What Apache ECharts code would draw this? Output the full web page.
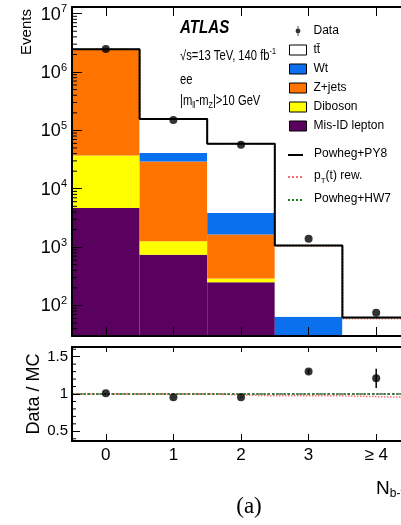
<!DOCTYPE html>
<html>
<head>
<meta charset="utf-8">
<script src="https://cdn.jsdelivr.net/npm/echarts@6/dist/echarts.min.js"></script>
<style>
  html, body { margin: 0; padding: 0; background: #fff; overflow: hidden; }
  /* the frame's right edge and the axis title run past the visible page width */
  #chart { width: 420px; height: 525px; }
</style>
</head>
<body>
<div id="chart"></div>
<script>
// b-tagged jet multiplicity bins
const categories = ['0', '1', '2', '3', '\u2265 4'];

// Stacked predictions (events per bin), listed bottom to top of the stack
const misIdLepton = [4700, 740, 250, 8, 1];
const diboson     = [32300, 520, 39, 3, 0.5];
const zJets       = [2380000, 28040, 1351, 6, 1];
const wt          = [4000, 11700, 2210, 47, 8];
const ttbar       = [40000, 116000, 55150, 1006, 51.5];

// Alternative ttbar modelling, total prediction per bin
const ptRewTotal  = [2461000, 157000, 57600, 1045, 59.5];
const hw7Total    = [2461000, 157000, 58900, 1065, 61.5];

// Observed events
const dataEvents  = [2480000, 150000, 56500, 1390, 75];

// Ratio panel
const ratioData   = [1.01, 0.955, 0.955, 1.30, 1.21];
const ratioErr    = [0.003, 0.004, 0.006, 0.03, 0.13];
const ratioPy8    = [1, 1, 1, 1, 1];
const ratioPtRew  = [1.0, 1.0, 0.975, 0.975, 0.955];
const ratioHw7    = [1.0, 1.0, 1.0, 1.0, 1.0];

// Axis tick values
const logMajorTicks = [1e2, 1e3, 1e4, 1e5, 1e6, 1e7];
const ratioMajorTicks = [0.5, 1, 1.5];

// ---------------------------------------------------------------------------
const SANS = '"Liberation Sans", Arial, sans-serif';
const X_MIN = -0.5, X_MAX = 4.5;
const Y_MIN = 30, Y_MAX = 1.3e7;
const R_MIN = 0.37, R_MAX = 1.63;
const binCenters = categories.map((_, i) => i);
const TTBAR = 'tt\u0304';

const layers = [
  { name: 'Mis-ID lepton', values: misIdLepton, color: '#5a005e' },
  { name: 'Diboson',       values: diboson,     color: '#ffff00' },
  { name: 'Z+jets',        values: zJets,       color: '#ff7300' },
  { name: 'Wt',            values: wt,          color: '#0a70ee' },
  { name: TTBAR,           values: ttbar,       color: '#ffffff' }
];

// cumulative stack edges
const running = categories.map(() => 0);
layers.forEach(l => {
  l.rows = l.values.map((v, i) => {
    const lo = running[i];
    running[i] += v;
    return [i, lo, running[i]];
  });
});
const totalMC = running.slice();

// histogram-style outline: left edge of each bin, then the closing right edge
function stepPoints(vals) {
  const pts = vals.map((v, i) => [i - 0.5, v]);
  pts.push([vals.length - 0.5, vals[vals.length - 1]]);
  return pts;
}

function clampLog(v) { return Math.min(Math.max(v, Y_MIN), Y_MAX); }

function renderBinRect(params, api) {
  const i = api.value(0);
  const lo = clampLog(api.value(1));
  const hi = clampLog(api.value(2));
  if (hi <= lo) return null;
  const p0 = api.coord([i - 0.5, hi]);
  const p1 = api.coord([i + 0.5, lo]);
  return {
    type: 'rect',
    shape: { x: p0[0], y: p0[1], width: p1[0] - p0[0], height: p1[1] - p0[1] },
    style: { fill: api.visual('color') }
  };
}

function minorTickRenderer(len) {
  return function (params, api) {
    const p = api.coord([X_MIN, api.value(0)]);
    return {
      type: 'line',
      shape: { x1: p[0], y1: p[1], x2: p[0] + len, y2: p[1] },
      style: { stroke: '#000', lineWidth: 1 }
    };
  };
}

const logMinorTicks = [];
for (let d = 1; d <= 7; d++) {
  for (let m = 2; m <= 9; m++) {
    const v = m * Math.pow(10, d);
    if (v > Y_MIN && v < Y_MAX) logMinorTicks.push([v]);
  }
}
const ratioMinorTicks = [];
for (let k = 4; k <= 16; k++) {
  if (k % 5 !== 0) ratioMinorTicks.push([k / 10]);
}

const axisLineStyle = { color: '#000', width: 2 };

function xAxisFor(gridIndex, position, tickLen, withLabels) {
  const ax = {
    type: 'value', gridIndex, position, min: X_MIN, max: X_MAX, z: 10,
    axisLine: { show: true, onZero: false, lineStyle: axisLineStyle },
    axisTick: { show: true, inside: true, length: tickLen, customValues: binCenters,
                lineStyle: { color: '#000', width: 1 } },
    axisLabel: { show: false },
    splitLine: { show: false }
  };
  if (withLabels) {
    ax.axisLabel = {
      show: true, customValues: binCenters, margin: 6,
      fontFamily: SANS, fontSize: 17, color: '#000',
      formatter: v => categories[Math.round(v)]
    };
    ax.name = '{n|N}{s|b-tag}';
    ax.nameLocation = 'end';
    ax.nameGap = -34;
    ax.nameMoveOverlap = false;
    ax.nameTextStyle = {
      align: 'left', verticalAlign: 'top', padding: [38, 0, 0, 0],
      rich: {
        n: { fontFamily: SANS, fontSize: 19, color: '#000', verticalAlign: 'top', lineHeight: 22 },
        s: { fontFamily: SANS, fontSize: 12, color: '#000', verticalAlign: 'top', lineHeight: 14, padding: [9, 0, 0, 0] }
      }
    };
  }
  return ax;
}

// condensed text look for the in-plot annotations
function note(text, x, y, size, extra) {
  return Object.assign({
    type: 'text', x, y, scaleX: 0.8,
    style: Object.assign({ text, fontFamily: SANS, fontSize: size, fill: '#000',
                           align: 'left', verticalAlign: 'middle' }, extra && extra.style)
  }, extra && extra.el);
}

const option = {
  animation: false,
  backgroundColor: '#fff',
  grid: [
    { left: 72, top: 7, right: 10, height: 329 },
    { left: 72, top: 347, right: 10, height: 94 }
  ],
  xAxis: [
    xAxisFor(0, 'bottom', 9, false),
    xAxisFor(0, 'top', 9, false),
    xAxisFor(1, 'bottom', 7, true),
    xAxisFor(1, 'top', 5, false)
  ],
  yAxis: [
    {
      type: 'log', gridIndex: 0, min: Y_MIN, max: Y_MAX, z: 10,
      axisLine: { show: true, onZero: false, lineStyle: axisLineStyle },
      axisTick: { show: true, inside: true, length: 10, lineStyle: { color: '#000', width: 1 } },
      splitLine: { show: false },
      axisLabel: {
        margin: 5, color: '#000',
        formatter: v => {
          const e = Math.log10(v);
          const n = Math.round(e);
          if (Math.abs(e - n) > 1e-6 || logMajorTicks.indexOf(Math.pow(10, n)) < 0) return '';
          return '{b|10}{e|' + n + '}';
        },
        rich: {
          b: { fontFamily: SANS, fontSize: 18, color: '#000', verticalAlign: 'bottom', lineHeight: 20 },
          e: { fontFamily: SANS, fontSize: 11, color: '#000', verticalAlign: 'bottom', lineHeight: 12, padding: [0, 0, 9, 0] }
        }
      }
    },
    {
      type: 'value', gridIndex: 1, min: R_MIN, max: R_MAX, z: 10,
      axisLine: { show: true, onZero: false, lineStyle: axisLineStyle },
      axisTick: { show: true, inside: true, length: 8, customValues: ratioMajorTicks,
                  lineStyle: { color: '#000', width: 1 } },
      splitLine: { show: false },
      axisLabel: {
        customValues: ratioMajorTicks, margin: 4,
        fontFamily: SANS, fontSize: 15, color: '#000',
        formatter: v => String(v)
      },
      name: 'Data / MC',
      nameLocation: 'middle',
      nameRotate: 90,
      nameGap: 29,
      nameMoveOverlap: false,
      nameTextStyle: { fontFamily: SANS, fontSize: 18, color: '#000' }
    }
  ],
  legend: [
    {
      orient: 'vertical', left: 284, top: 19,
      itemWidth: 17, itemHeight: 10, itemGap: 5,
      selectedMode: false,
      textStyle: { fontFamily: SANS, fontSize: 12, lineHeight: 14, color: '#000', padding: [0, 0, 0, 2] },
      data: [
        { name: 'Data', icon: 'path://M4.4,0H5.6V14H4.4Z M1.6,7A3.4,3.4,0,1,1,8.4,7A3.4,3.4,0,1,1,1.6,7Z',
          itemStyle: { color: '#000', borderWidth: 0 } },
        { name: TTBAR, icon: 'rect', itemStyle: { borderColor: '#000', borderWidth: 1 } },
        { name: 'Wt', icon: 'rect', itemStyle: { borderColor: '#000', borderWidth: 1 } },
        { name: 'Z+jets', icon: 'rect', itemStyle: { borderColor: '#000', borderWidth: 1 } },
        { name: 'Diboson', icon: 'rect', itemStyle: { borderColor: '#000', borderWidth: 1 } },
        { name: 'Mis-ID lepton', icon: 'rect', itemStyle: { borderColor: '#000', borderWidth: 1 } }
      ]
    },
    {
      orient: 'vertical', left: 282, top: 143,
      itemWidth: 15, itemHeight: 10, itemGap: 8,
      selectedMode: false,
      itemStyle: { opacity: 0 },
      textStyle: {
        fontFamily: SANS, fontSize: 12, lineHeight: 14, color: '#000', padding: [0, 0, 0, 6],
        rich: {
          t: { fontFamily: SANS, fontSize: 12, color: '#000', verticalAlign: 'top', lineHeight: 14 },
          sub: { fontFamily: SANS, fontSize: 8, color: '#000', verticalAlign: 'top', lineHeight: 9, padding: [7, 0, 0, 0] }
        }
      },
      data: ['Powheg+PY8', 'pT(t) rew.', 'Powheg+HW7'],
      formatter: name => name === 'pT(t) rew.' ? '{t|p}{sub|T}{t|(t) rew.}' : '{t|' + name + '}'
    }
  ],
  graphic: [
    { type: 'text', x: 27, y: 32, rotation: Math.PI / 2,
      style: { text: 'Events', fontFamily: SANS, fontSize: 15, fill: '#000', align: 'center', verticalAlign: 'middle' } },
    note('ATLAS', 180, 28, 18, { style: { fontWeight: 'bold', fontStyle: 'italic' }, el: { scaleX: 0.84 } }),
    note('{t|\u221As=13 TeV, 140 fb}{sup|-1}', 180, 56, 14, { style: {
      rich: {
        t: { fontFamily: SANS, fontSize: 14, fill: '#000', verticalAlign: 'bottom', lineHeight: 15 },
        sup: { fontFamily: SANS, fontSize: 9, fill: '#000', verticalAlign: 'bottom', lineHeight: 10, padding: [0, 0, 7, 0] }
      } } }),
    note('ee', 180, 80, 14),
    note('{t||m}{sub|ll}{t|-m}{sub|Z}{t||>10 GeV}', 180, 102, 14, { style: {
      rich: {
        t: { fontFamily: SANS, fontSize: 14, fill: '#000', verticalAlign: 'top', lineHeight: 15 },
        sub: { fontFamily: SANS, fontSize: 9, fill: '#000', verticalAlign: 'top', lineHeight: 10, padding: [7, 0, 0, 0] }
      } } }),
    { type: 'text', x: 249, y: 507,
      style: { text: '(a)', fontFamily: '"Liberation Serif", "Times New Roman", serif', fontSize: 23,
               fill: '#000', align: 'center', verticalAlign: 'middle' } }
  ],
  series: [
    ...layers.map(l => ({
      type: 'custom', name: l.name, xAxisIndex: 0, yAxisIndex: 0, z: 1,
      itemStyle: { color: l.color },
      encode: { x: 0, y: 2 },
      renderItem: renderBinRect,
      data: l.rows,
      silent: true
    })),
    {
      type: 'line', name: 'pT(t) rew.', xAxisIndex: 0, yAxisIndex: 0, z: 3,
      step: 'end', symbol: 'none', data: stepPoints(ptRewTotal),
      lineStyle: { color: '#ff6a6a', width: 1.5, type: 'dotted' }
    },
    {
      type: 'line', name: 'Powheg+HW7', xAxisIndex: 0, yAxisIndex: 0, z: 3,
      step: 'end', symbol: 'none', data: stepPoints(hw7Total),
      lineStyle: { color: '#1d7a1d', width: 1.5, type: 'dotted' }
    },
    {
      type: 'line', name: 'Powheg+PY8', xAxisIndex: 0, yAxisIndex: 0, z: 4,
      step: 'end', symbol: 'none', data: stepPoints(totalMC),
      lineStyle: { color: '#000', width: 2 }
    },
    {
      type: 'scatter', name: 'Data', xAxisIndex: 0, yAxisIndex: 0, z: 6,
      symbol: 'circle', symbolSize: 8, itemStyle: { color: '#000' },
      data: dataEvents.map((v, i) => [i, v])
    },
    {
      type: 'custom', xAxisIndex: 0, yAxisIndex: 0, z: 12, silent: true,
      encode: { y: 0 }, renderItem: minorTickRenderer(5), data: logMinorTicks
    },
    // ratio panel
    {
      type: 'line', name: 'Powheg+PY8', xAxisIndex: 2, yAxisIndex: 1, z: 3,
      step: 'end', symbol: 'none', data: stepPoints(ratioPy8),
      lineStyle: { color: '#222', width: 1.2, type: [3, 2] }
    },
    {
      type: 'line', name: 'pT(t) rew.', xAxisIndex: 2, yAxisIndex: 1, z: 3,
      step: 'end', symbol: 'none', data: stepPoints(ratioPtRew),
      lineStyle: { color: '#ff6a6a', width: 1.5, type: 'dotted' }
    },
    {
      type: 'line', name: 'Powheg+HW7', xAxisIndex: 2, yAxisIndex: 1, z: 4,
      step: 'end', symbol: 'none', data: stepPoints(ratioHw7),
      lineStyle: { color: '#1d7a1d', width: 1.5, type: [2, 2] }
    },
    {
      type: 'custom', name: 'Data', xAxisIndex: 2, yAxisIndex: 1, z: 6, silent: true,
      encode: { x: 0, y: [1, 2] },
      renderItem: (params, api) => {
        const a = api.coord([api.value(0), api.value(1)]);
        const b = api.coord([api.value(0), api.value(2)]);
        return { type: 'line', shape: { x1: a[0], y1: a[1], x2: b[0], y2: b[1] },
                 style: { stroke: '#000', lineWidth: 1.5 } };
      },
      data: ratioData.map((v, i) => [i, v - ratioErr[i], v + ratioErr[i]])
    },
    {
      type: 'scatter', name: 'Data', xAxisIndex: 2, yAxisIndex: 1, z: 7,
      symbol: 'circle', symbolSize: 8, itemStyle: { color: '#000' },
      data: ratioData.map((v, i) => [i, v])
    },
    {
      type: 'custom', xAxisIndex: 2, yAxisIndex: 1, z: 12, silent: true,
      encode: { y: 0 }, renderItem: minorTickRenderer(4), data: ratioMinorTicks
    }
  ]
};

const chart = echarts.init(document.getElementById('chart'), null, { renderer: 'canvas' });
chart.setOption(option);
</script>
</body>
</html>
